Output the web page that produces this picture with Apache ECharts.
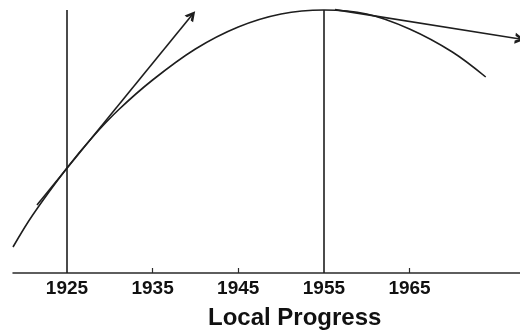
<!DOCTYPE html>
<html>
<head>
<meta charset="utf-8">
<script src="https://cdn.jsdelivr.net/npm/echarts@6/dist/echarts.min.js"></script>
<style>
  html, body { margin: 0; padding: 0; background: #fff; }
  #chart { width: 520px; height: 330px; }
</style>
</head>
<body>
<div id="chart"></div>
<script>
// Years on the horizontal axis and the height of the progress curve (arbitrary units)
const years = [1918.7, 1921, 1925, 1928, 1931, 1935, 1940, 1945, 1950, 1955, 1960, 1965, 1970, 1973.9];
const progress = [26, 58, 105, 136, 163, 193, 224, 246, 259, 263, 259, 244, 221, 196];

// Tick labels under the axis
const tickYears = [1925, 1935, 1945, 1955, 1965];
const minorTicks = [1935, 1945, 1965];

// Tangent arrows: [startYear, startValue, endYear, endValue]
const tangentEarly = [1921.5, 68, 1939.6, 258];
const tangentLate = [1956.3, 263.4, 1977.9, 234];

// Vertical reference lines: [year, topValue]
const markerEarly = [1925, 263];
const markerPeak = [1955, 263];

const ink = '#1e1e1e';
// open chevron arrowhead, pointing up before rotation
const chevron = 'path://M0,10 L5,0 L10,10 L7.2,10 L5,5.2 L2.8,10 Z';

const chart = echarts.init(document.getElementById('chart'), null, { renderer: 'canvas' });

function vLine(m) {
  return [
    { coord: [m[0], 0], symbol: 'none' },
    { coord: [m[0], m[1]], symbol: 'none' }
  ];
}
function arrow(t) {
  return [
    { coord: [t[0], t[1]], symbol: 'none' },
    { coord: [t[2], t[3]], symbol: chevron, symbolSize: [11, 10] }
  ];
}

chart.setOption({
  animation: false,
  backgroundColor: '#fff',
  title: {
    text: 'Local Progress',
    left: 208,
    top: 306,
    padding: 0,
    textStyle: {
      fontFamily: 'Liberation Sans, Arial, sans-serif',
      fontSize: 24,
      fontWeight: 'bold',
      color: '#111',
      lineHeight: 24
    }
  },
  grid: { left: 13, right: 0, top: 3, bottom: 57, containLabel: false },
  xAxis: {
    type: 'value',
    min: 1918.7,
    max: 1977.9,
    splitLine: { show: false },
    axisLine: { show: true, lineStyle: { color: '#2a2a2a', width: 1.5 } },
    axisTick: {
      show: true,
      inside: true,
      length: 5,
      customValues: minorTicks,
      lineStyle: { color: '#2a2a2a', width: 1.2 }
    },
    axisLabel: {
      show: true,
      customValues: tickYears,
      margin: 6,
      fontFamily: 'Liberation Sans, Arial, sans-serif',
      fontSize: 19,
      fontWeight: 'bold',
      color: '#111',
      formatter: v => String(Math.round(v))
    }
  },
  yAxis: {
    type: 'value',
    min: 0,
    max: 270,
    show: false,
    splitLine: { show: false }
  },
  series: [{
    type: 'line',
    data: years.map((y, i) => [y, progress[i]]),
    smooth: 0.35,
    showSymbol: false,
    symbol: 'none',
    lineStyle: { color: ink, width: 1.6 },
    silent: true,
    markLine: {
      silent: true,
      animation: false,
      label: { show: false },
      lineStyle: { color: ink, width: 1.6, type: 'solid' },
      symbolSize: 10,
      data: [
        vLine(markerEarly),
        vLine(markerPeak),
        arrow(tangentEarly),
        arrow(tangentLate)
      ]
    }
  }]
});
</script>
</body>
</html>
